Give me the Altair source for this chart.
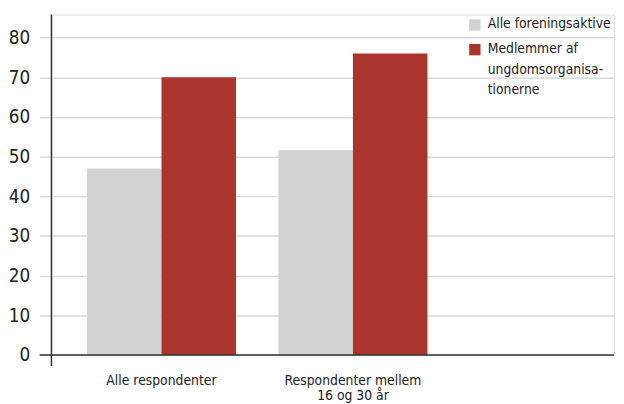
import altair as alt
import pandas as pd

categories = ["Alle respondenter", "Respondenter mellem\n16 og 30 år"]
series = ["Alle foreningsaktive", "Medlemmer af\nungdomsorganisa-\ntionerne"]
alle_foreningsaktive = [47, 51.6]
medlemmer = [70, 76]
colors = ["#d1d2d4", "#a9352d"]
y_ticks = [0, 10, 20, 30, 40, 50, 60, 70, 80]

rows = []
for i, c in enumerate(categories):
    rows.append({"kategori": c, "serie": series[0], "andel": alle_foreningsaktive[i]})
    rows.append({"kategori": c, "serie": series[1], "andel": medlemmer[i]})
df = pd.DataFrame(rows)

FONT = "DejaVu Sans Condensed, Roboto, sans-serif"
W, H = 570, 345

bars = alt.Chart(df).mark_bar().encode(
    x=alt.X("kategori:N", sort=categories,
            scale=alt.Scale(paddingInner=0.2216, paddingOuter=0.58, align=0.16),
            axis=alt.Axis(title=None, labelAngle=0, domain=False, ticks=False,
                          labelPadding=19, labelFontSize=14, labelFont=FONT,
                          labelColor="#222", labelExpr="split(datum.label, '\\n')",
                          labelLineHeight=15.5)),
    xOffset=alt.XOffset("serie:N", sort=series, scale=alt.Scale(paddingInner=0, paddingOuter=0)),
    y=alt.Y("andel:Q", scale=alt.Scale(domain=[0, 85.8], nice=False, zero=True),
            axis=alt.Axis(title=None, values=y_ticks, domain=False, grid=True,
                          gridColor="#d9d9d9", gridWidth=1.5, tickColor="#d9d9d9",
                          tickWidth=1.5, tickSize=12, labelPadding=10, labelFontSize=19,
                          labelFont=FONT, labelColor="#222")),
    color=alt.Color("serie:N", sort=series, scale=alt.Scale(domain=series, range=colors),
                    legend=alt.Legend(title=None, orient="none", legendX=422, legendY=-4,
                                      padding=0, symbolType="M-1,0.33H1V2.33H-1Z",
                                      symbolSize=132,
                                      symbolStrokeWidth=0, labelFont=FONT, labelFontSize=14,
                                      labelColor="#222", labelOffset=6, labelLimit=300,
                                      labelExpr="split(datum.label, '\\n')",
                                      labelBaseline="top", rowPadding=4)),
)

base_rule = alt.Chart(pd.DataFrame({"y": [0]})).mark_rule(color="#333", strokeWidth=1.5).encode(
    y=alt.Y("y:Q"), x=alt.value(-12), x2=alt.value(W)
)
axis_rule = alt.Chart(pd.DataFrame({"y": [0]})).mark_rule(color="#333", strokeWidth=1.5).encode(
    x=alt.value(0), y=alt.value(0), y2=alt.value(H + 11)
)

chart = alt.layer(bars, base_rule, axis_rule).properties(
    width=W, height=H,
    autosize=alt.AutoSizeParams(type="none"),
    padding={"left": 44, "top": 4, "right": 2, "bottom": 47},
).configure_view(stroke=None).configure(style={"guide-label": {"lineHeight": 21}})

chart.save("out.html", embed_options={"renderer": "svg", "actions": False})
